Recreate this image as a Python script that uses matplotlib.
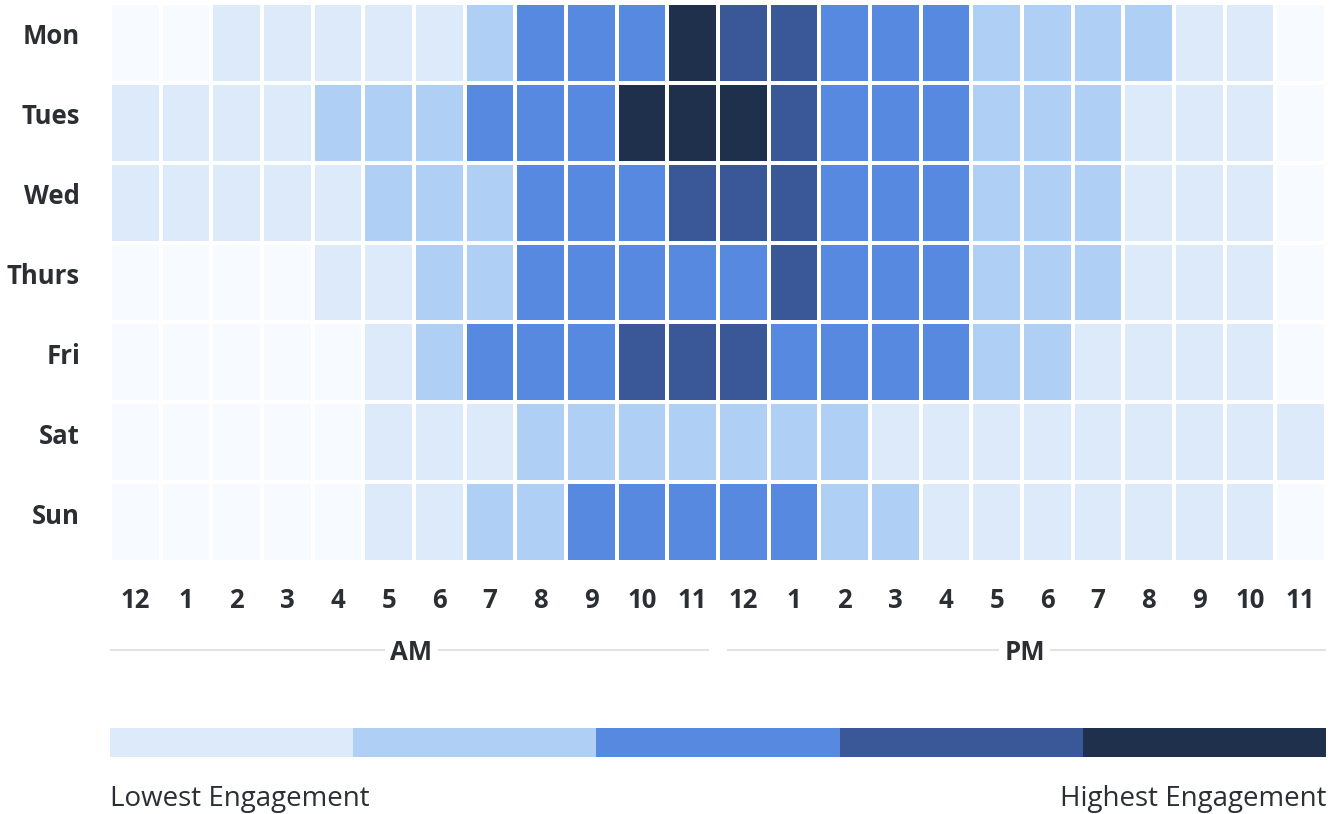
import numpy as np
import matplotlib
matplotlib.use("Agg")
import matplotlib.pyplot as plt
from matplotlib.colors import ListedColormap, BoundaryNorm

days = ["Mon", "Tues", "Wed", "Thurs", "Fri", "Sat", "Sun"]
hours = ["12", "1", "2", "3", "4", "5", "6", "7", "8", "9", "10", "11",
         "12", "1", "2", "3", "4", "5", "6", "7", "8", "9", "10", "11"]
mon = [0,0,1,1,1,1,1,2,3,3,3,5,4,4,3,3,3,2,2,2,2,1,1,0]
tue = [1,1,1,1,2,2,2,3,3,3,5,5,5,4,3,3,3,2,2,2,1,1,1,0]
wed = [1,1,1,1,1,2,2,2,3,3,3,4,4,4,3,3,3,2,2,2,1,1,1,0]
thu = [0,0,0,0,1,1,2,2,3,3,3,3,3,4,3,3,3,2,2,2,1,1,1,0]
fri = [0,0,0,0,0,1,2,3,3,3,4,4,4,3,3,3,3,2,2,1,1,1,1,0]
sat = [0,0,0,0,0,1,1,1,2,2,2,2,2,2,2,1,1,1,1,1,1,1,1,1]
sun = [0,0,0,0,0,1,1,2,2,3,3,3,3,3,2,2,1,1,1,1,1,1,1,0]
legend_levels = [1, 2, 3, 4, 5]
periods = ["AM", "PM"]

colors = ["#f7fafe", "#dceafa", "#b0cff4", "#5889e0", "#3a5898", "#1f304d"]
cmap = ListedColormap(colors)
norm = BoundaryNorm(np.arange(-0.5, 6.5, 1), cmap.N)
text_col = "#2b2f33"
FONT = ["Open Sans", "DejaVu Sans"]

W, H = 1331, 814
fig = plt.figure(figsize=(W / 100, H / 100), dpi=100)
fig.patch.set_facecolor("white")

def px_axes(x0, y0, x1, y1):
    return fig.add_axes([x0 / W, 1 - y1 / H, (x1 - x0) / W, (y1 - y0) / H])

data = np.array([mon, tue, wed, thu, fri, sat, sun])

ax = px_axes(110, 3, 1326, 562)
ax.pcolormesh(np.arange(25), np.arange(8), data, cmap=cmap, norm=norm,
              edgecolors="white", linewidth=1.6)
ax.set_xlim(0, 24)
ax.set_ylim(7, 0)
ax.set_xticks([])
ax.set_yticks([])
for s in ax.spines.values():
    s.set_visible(False)

# hour labels
for i, lab in enumerate(hours):
    ax.text(i + 0.5, 7 + 39 / 80, lab, ha="center", va="center", fontsize=18.5,
            fontweight="bold", color=text_col, family=FONT)
# day labels
for j, lab in enumerate(days):
    ax.text(-30 / 50.67, j + 0.5 - 6 / 80, lab, ha="right", va="center",
            fontsize=18.5, fontweight="bold", color=text_col, family=FONT)

# AM / PM row
ax2 = px_axes(110, 630, 1326, 670)
ax2.set_xlim(0, 24)
ax2.set_ylim(0, 1)
ax2.axis("off")
ax2.plot([0, 11.8], [0.5, 0.5], color="#dddddd", lw=1.2)
ax2.plot([12.2, 24], [0.5, 0.5], color="#dddddd", lw=1.2)
for xc, lab in zip([5.95, 18.05], periods):
    ax2.text(xc, 0.45, lab, ha="center", va="center", fontsize=18.5,
             fontweight="bold", color=text_col, family=FONT,
             bbox=dict(facecolor="white", edgecolor="none", pad=4))

# legend bar
ax3 = px_axes(110, 728, 1326, 757)
ax3.pcolormesh(np.arange(6), np.arange(2), np.array([legend_levels]),
               cmap=cmap, norm=norm)
ax3.set_xlim(0, 5)
ax3.set_ylim(0, 1)
ax3.axis("off")

fig.text(110 / W, 1 - 799 / H, "Lowest Engagement", ha="left", va="center",
         fontsize=20, color=text_col, family=FONT)
fig.text(1326 / W, 1 - 799 / H, "Highest Engagement", ha="right", va="center",
         fontsize=20, color=text_col, family=FONT)

fig.savefig("out.png", dpi=100, facecolor="white")
